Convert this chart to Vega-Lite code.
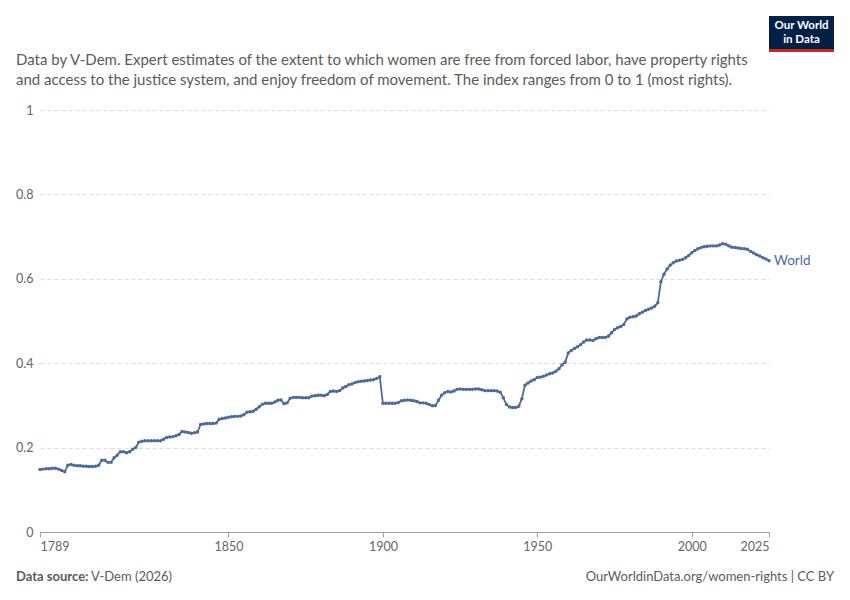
{
  "$schema": "https://vega.github.io/schema/vega-lite/v6.json",
  "width": 729,
  "height": 422,
  "autosize": "none",
  "padding": {"left": 40, "top": 110, "right": 81, "bottom": 68},
  "background": "white",
  "data": {
    "values": [
      {"year": 1789, "value": 0.148}, {"year": 1790, "value": 0.149}, {"year": 1791, "value": 0.150},
      {"year": 1792, "value": 0.150}, {"year": 1793, "value": 0.151}, {"year": 1794, "value": 0.151},
      {"year": 1795, "value": 0.149}, {"year": 1796, "value": 0.146}, {"year": 1797, "value": 0.143},
      {"year": 1798, "value": 0.158}, {"year": 1799, "value": 0.160}, {"year": 1800, "value": 0.158},
      {"year": 1801, "value": 0.157}, {"year": 1802, "value": 0.157}, {"year": 1803, "value": 0.156},
      {"year": 1804, "value": 0.156}, {"year": 1805, "value": 0.155}, {"year": 1806, "value": 0.155},
      {"year": 1807, "value": 0.156}, {"year": 1808, "value": 0.158}, {"year": 1809, "value": 0.170},
      {"year": 1810, "value": 0.170}, {"year": 1811, "value": 0.165}, {"year": 1812, "value": 0.165},
      {"year": 1813, "value": 0.176}, {"year": 1814, "value": 0.182}, {"year": 1815, "value": 0.190},
      {"year": 1816, "value": 0.190}, {"year": 1817, "value": 0.188}, {"year": 1818, "value": 0.190},
      {"year": 1819, "value": 0.196}, {"year": 1820, "value": 0.200}, {"year": 1821, "value": 0.213},
      {"year": 1822, "value": 0.215}, {"year": 1823, "value": 0.216}, {"year": 1824, "value": 0.216},
      {"year": 1825, "value": 0.216}, {"year": 1826, "value": 0.216}, {"year": 1827, "value": 0.216},
      {"year": 1828, "value": 0.216}, {"year": 1829, "value": 0.220}, {"year": 1830, "value": 0.224},
      {"year": 1831, "value": 0.225}, {"year": 1832, "value": 0.226}, {"year": 1833, "value": 0.228},
      {"year": 1834, "value": 0.231}, {"year": 1835, "value": 0.238}, {"year": 1836, "value": 0.237},
      {"year": 1837, "value": 0.236}, {"year": 1838, "value": 0.234}, {"year": 1839, "value": 0.235},
      {"year": 1840, "value": 0.237}, {"year": 1841, "value": 0.255}, {"year": 1842, "value": 0.256},
      {"year": 1843, "value": 0.257}, {"year": 1844, "value": 0.257}, {"year": 1845, "value": 0.257},
      {"year": 1846, "value": 0.258}, {"year": 1847, "value": 0.267}, {"year": 1848, "value": 0.269},
      {"year": 1849, "value": 0.270}, {"year": 1850, "value": 0.272}, {"year": 1851, "value": 0.273},
      {"year": 1852, "value": 0.274}, {"year": 1853, "value": 0.274}, {"year": 1854, "value": 0.275},
      {"year": 1855, "value": 0.278}, {"year": 1856, "value": 0.284}, {"year": 1857, "value": 0.285},
      {"year": 1858, "value": 0.286}, {"year": 1859, "value": 0.291}, {"year": 1860, "value": 0.297},
      {"year": 1861, "value": 0.303}, {"year": 1862, "value": 0.305}, {"year": 1863, "value": 0.305},
      {"year": 1864, "value": 0.305}, {"year": 1865, "value": 0.308}, {"year": 1866, "value": 0.312},
      {"year": 1867, "value": 0.313}, {"year": 1868, "value": 0.304}, {"year": 1869, "value": 0.306},
      {"year": 1870, "value": 0.317}, {"year": 1871, "value": 0.319}, {"year": 1872, "value": 0.319},
      {"year": 1873, "value": 0.319}, {"year": 1874, "value": 0.318}, {"year": 1875, "value": 0.318},
      {"year": 1876, "value": 0.318}, {"year": 1877, "value": 0.322}, {"year": 1878, "value": 0.323},
      {"year": 1879, "value": 0.324}, {"year": 1880, "value": 0.324}, {"year": 1881, "value": 0.323},
      {"year": 1882, "value": 0.326}, {"year": 1883, "value": 0.333}, {"year": 1884, "value": 0.334},
      {"year": 1885, "value": 0.333}, {"year": 1886, "value": 0.335}, {"year": 1887, "value": 0.341},
      {"year": 1888, "value": 0.345}, {"year": 1889, "value": 0.349}, {"year": 1890, "value": 0.351},
      {"year": 1891, "value": 0.354}, {"year": 1892, "value": 0.356}, {"year": 1893, "value": 0.357},
      {"year": 1894, "value": 0.358}, {"year": 1895, "value": 0.359}, {"year": 1896, "value": 0.360},
      {"year": 1897, "value": 0.361}, {"year": 1898, "value": 0.364}, {"year": 1899, "value": 0.368},
      {"year": 1900, "value": 0.305}, {"year": 1901, "value": 0.305}, {"year": 1902, "value": 0.305},
      {"year": 1903, "value": 0.305}, {"year": 1904, "value": 0.305}, {"year": 1905, "value": 0.307},
      {"year": 1906, "value": 0.311}, {"year": 1907, "value": 0.312}, {"year": 1908, "value": 0.313},
      {"year": 1909, "value": 0.312}, {"year": 1910, "value": 0.311}, {"year": 1911, "value": 0.309},
      {"year": 1912, "value": 0.306}, {"year": 1913, "value": 0.306}, {"year": 1914, "value": 0.305},
      {"year": 1915, "value": 0.302}, {"year": 1916, "value": 0.299}, {"year": 1917, "value": 0.300},
      {"year": 1918, "value": 0.312}, {"year": 1919, "value": 0.324}, {"year": 1920, "value": 0.330},
      {"year": 1921, "value": 0.333}, {"year": 1922, "value": 0.332}, {"year": 1923, "value": 0.334},
      {"year": 1924, "value": 0.338}, {"year": 1925, "value": 0.339}, {"year": 1926, "value": 0.338},
      {"year": 1927, "value": 0.338}, {"year": 1928, "value": 0.338}, {"year": 1929, "value": 0.338},
      {"year": 1930, "value": 0.339}, {"year": 1931, "value": 0.339}, {"year": 1932, "value": 0.337},
      {"year": 1933, "value": 0.335}, {"year": 1934, "value": 0.335}, {"year": 1935, "value": 0.335},
      {"year": 1936, "value": 0.335}, {"year": 1937, "value": 0.334}, {"year": 1938, "value": 0.331},
      {"year": 1939, "value": 0.318}, {"year": 1940, "value": 0.302}, {"year": 1941, "value": 0.296},
      {"year": 1942, "value": 0.295}, {"year": 1943, "value": 0.295}, {"year": 1944, "value": 0.298},
      {"year": 1945, "value": 0.316}, {"year": 1946, "value": 0.348}, {"year": 1947, "value": 0.353},
      {"year": 1948, "value": 0.358}, {"year": 1949, "value": 0.361}, {"year": 1950, "value": 0.366},
      {"year": 1951, "value": 0.367}, {"year": 1952, "value": 0.369}, {"year": 1953, "value": 0.372},
      {"year": 1954, "value": 0.375}, {"year": 1955, "value": 0.377}, {"year": 1956, "value": 0.381},
      {"year": 1957, "value": 0.387}, {"year": 1958, "value": 0.396}, {"year": 1959, "value": 0.402},
      {"year": 1960, "value": 0.424}, {"year": 1961, "value": 0.430}, {"year": 1962, "value": 0.435},
      {"year": 1963, "value": 0.439}, {"year": 1964, "value": 0.444}, {"year": 1965, "value": 0.450},
      {"year": 1966, "value": 0.455}, {"year": 1967, "value": 0.455}, {"year": 1968, "value": 0.454},
      {"year": 1969, "value": 0.458}, {"year": 1970, "value": 0.461}, {"year": 1971, "value": 0.461},
      {"year": 1972, "value": 0.461}, {"year": 1973, "value": 0.464}, {"year": 1974, "value": 0.472},
      {"year": 1975, "value": 0.480}, {"year": 1976, "value": 0.484}, {"year": 1977, "value": 0.487},
      {"year": 1978, "value": 0.492}, {"year": 1979, "value": 0.505}, {"year": 1980, "value": 0.509},
      {"year": 1981, "value": 0.510}, {"year": 1982, "value": 0.512}, {"year": 1983, "value": 0.517},
      {"year": 1984, "value": 0.521}, {"year": 1985, "value": 0.525}, {"year": 1986, "value": 0.528},
      {"year": 1987, "value": 0.531}, {"year": 1988, "value": 0.535}, {"year": 1989, "value": 0.543},
      {"year": 1990, "value": 0.593}, {"year": 1991, "value": 0.611}, {"year": 1992, "value": 0.623},
      {"year": 1993, "value": 0.632}, {"year": 1994, "value": 0.638}, {"year": 1995, "value": 0.642},
      {"year": 1996, "value": 0.644}, {"year": 1997, "value": 0.646}, {"year": 1998, "value": 0.650},
      {"year": 1999, "value": 0.655}, {"year": 2000, "value": 0.662}, {"year": 2001, "value": 0.667},
      {"year": 2002, "value": 0.671}, {"year": 2003, "value": 0.674}, {"year": 2004, "value": 0.676},
      {"year": 2005, "value": 0.677}, {"year": 2006, "value": 0.678}, {"year": 2007, "value": 0.678},
      {"year": 2008, "value": 0.678}, {"year": 2009, "value": 0.680}, {"year": 2010, "value": 0.683},
      {"year": 2011, "value": 0.682}, {"year": 2012, "value": 0.678}, {"year": 2013, "value": 0.675},
      {"year": 2014, "value": 0.674}, {"year": 2015, "value": 0.673}, {"year": 2016, "value": 0.672},
      {"year": 2017, "value": 0.671}, {"year": 2018, "value": 0.670}, {"year": 2019, "value": 0.665},
      {"year": 2020, "value": 0.661}, {"year": 2021, "value": 0.657}, {"year": 2022, "value": 0.654},
      {"year": 2023, "value": 0.650}, {"year": 2024, "value": 0.647}, {"year": 2025, "value": 0.643}
    ]
  },
  "encoding": {
    "x": {
      "field": "year",
      "type": "quantitative",
      "scale": {"domain": [1789, 2025], "nice": false, "zero": false},
      "axis": {
        "title": null,
        "values": [1789, 1850, 1900, 1950, 2000, 2025],
        "format": "d",
        "grid": false,
        "labelFlush": true,
        "labelFont": "Lato",
        "labelFontSize": 12.5,
        "labelColor": "#666666",
        "labelPadding": 3,
        "domainColor": "#a0a0a0",
        "tickColor": "#a0a0a0",
        "tickSize": 5
      }
    },
    "y": {
      "field": "value",
      "type": "quantitative",
      "scale": {"domain": [0, 1], "nice": false},
      "axis": {
        "title": null,
        "values": [0, 0.2, 0.4, 0.6, 0.8, 1],
        "format": "~g",
        "domain": false,
        "ticks": false,
        "labelFont": "Lato",
        "labelFontSize": 12.5,
        "labelColor": "#666666",
        "labelPadding": 7,
        "gridColor": "#dddddd",
        "gridDash": [4, 3],
        "gridWidth": 1
      }
    }
  },
  "layer": [
    {
      "mark": {
        "type": "line",
        "color": "#4c6a9c",
        "strokeWidth": 1.8,
        "point": {"filled": true, "size": 12, "color": "#4c6a9c"}
      }
    },
    {
      "transform": [{"filter": "datum.year == 2025"}],
      "mark": {
        "type": "text",
        "align": "left",
        "baseline": "middle",
        "dx": 5,
        "font": "Lato",
        "fontSize": 13.5,
        "color": "#4c6a9c"
      },
      "encoding": {"text": {"value": "World"}}
    },
    {
      "data": {"values": [{"label": "Data by V-Dem. Expert estimates of the extent to which women are free from forced labor, have property rights"}]},
      "mark": {
        "type": "text",
        "align": "left",
        "baseline": "middle",
        "x": -24,
        "y": -50,
        "font": "Lato",
        "fontSize": 15,
        "color": "#5b5b5b"
      },
      "encoding": {"text": {"field": "label"}, "x": null, "y": null}
    },
    {
      "data": {"values": [{"label": "and access to the justice system, and enjoy freedom of movement. The index ranges from 0 to 1 (most rights)."}]},
      "mark": {
        "type": "text",
        "align": "left",
        "baseline": "middle",
        "x": -24,
        "y": -30,
        "font": "Lato",
        "fontSize": 15,
        "color": "#5b5b5b"
      },
      "encoding": {"text": {"field": "label"}, "x": null, "y": null}
    },
    {
      "data": {"values": [{"label": "Data source:"}]},
      "mark": {
        "type": "text",
        "align": "left",
        "baseline": "middle",
        "x": -24,
        "y": {"expr": "height + 45"},
        "font": "Lato",
        "fontSize": 13,
        "fontWeight": "bold",
        "color": "#5b5b5b"
      },
      "encoding": {"text": {"field": "label"}, "x": null, "y": null}
    },
    {
      "data": {"values": [{"label": "V-Dem (2026)"}]},
      "mark": {
        "type": "text",
        "align": "left",
        "baseline": "middle",
        "x": 51,
        "y": {"expr": "height + 45"},
        "font": "Lato",
        "fontSize": 13,
        "color": "#5b5b5b"
      },
      "encoding": {"text": {"field": "label"}, "x": null, "y": null}
    },
    {
      "data": {"values": [{"label": "OurWorldinData.org/women-rights | CC BY"}]},
      "mark": {
        "type": "text",
        "align": "right",
        "baseline": "middle",
        "x": {"expr": "width + 65"},
        "y": {"expr": "height + 45"},
        "font": "Lato",
        "fontSize": 13,
        "color": "#5b5b5b"
      },
      "encoding": {"text": {"field": "label"}, "x": null, "y": null}
    },
    {
      "data": {"values": [{"part": "logo"}]},
      "mark": {
        "type": "rect",
        "x": {"expr": "width"},
        "x2": {"expr": "width + 65"},
        "y": -94,
        "y2": -58,
        "color": "#002147"
      },
      "encoding": {"x": null, "y": null}
    },
    {
      "data": {"values": [{"part": "logo-band"}]},
      "mark": {
        "type": "rect",
        "x": {"expr": "width"},
        "x2": {"expr": "width + 65"},
        "y": -61,
        "y2": -58,
        "color": "#ce261e"
      },
      "encoding": {"x": null, "y": null}
    },
    {
      "data": {"values": [{"label": "Our World"}]},
      "mark": {
        "type": "text",
        "align": "center",
        "baseline": "middle",
        "x": {"expr": "width + 32.5"},
        "y": -84,
        "font": "Lato",
        "fontSize": 11.5,
        "fontWeight": "bold",
        "color": "white"
      },
      "encoding": {"text": {"field": "label"}, "x": null, "y": null}
    },
    {
      "data": {"values": [{"label": "in Data"}]},
      "mark": {
        "type": "text",
        "align": "center",
        "baseline": "middle",
        "x": {"expr": "width + 32.5"},
        "y": -70,
        "font": "Lato",
        "fontSize": 11.5,
        "fontWeight": "bold",
        "color": "white"
      },
      "encoding": {"text": {"field": "label"}, "x": null, "y": null}
    }
  ],
  "config": {
    "view": {"stroke": null},
    "font": "Lato"
  }
}
